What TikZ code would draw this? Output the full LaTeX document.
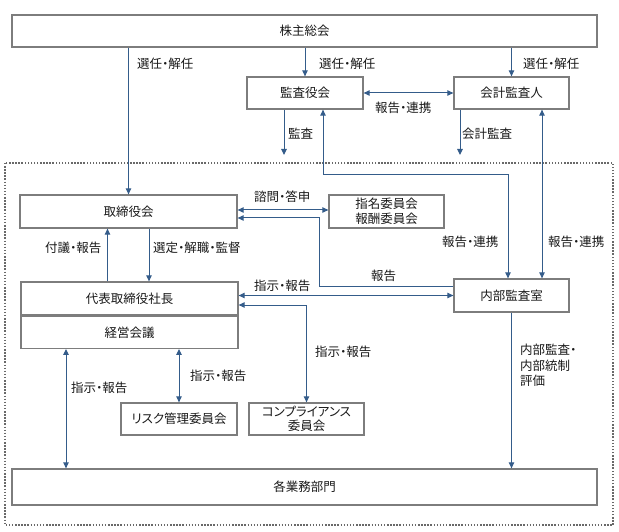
\documentclass[tikz,border=0pt]{standalone}
\usepackage{fontspec}
\setmainfont{Noto Sans CJK JP}[RawFeature=+palt]
\usetikzlibrary{arrows.meta, positioning, calc}
\definecolor{arrowblue}{RGB}{52,92,138}
\definecolor{boxgray}{RGB}{125,125,125}
\definecolor{dotgray}{RGB}{105,105,105}
\definecolor{textgray}{RGB}{25,25,25}

\begin{document}
\begin{tikzpicture}[
        x=1pt, y=-1pt,
        box/.style={rectangle, draw=boxgray, line width=1.3pt, fill=white, inner sep=0pt, align=center, text=textgray, font=\fontsize{12.5}{14.5}\selectfont},
        lbl/.style={anchor=west, inner sep=0pt, text=textgray, font=\fontsize{12.5}{15.5}\selectfont},
        link/.style={draw=arrowblue, line width=1pt, -{Triangle[length=6pt,width=5.5pt]}},
        twoway/.style={link, {Triangle[length=6pt,width=5.5pt]}-{Triangle[length=6pt,width=5.5pt]}}
    ]
        \useasboundingbox (0,0) rectangle (619,532);
        \draw[dotgray, line width=1.7pt, dash pattern=on 1.5pt off 1.6pt] (5,163) rectangle (613,525);

        % boxes
        \node[box, minimum width=585pt, minimum height=32pt] (soukai) at (304.5,31) {株主総会};
        \node[box, minimum width=116pt, minimum height=32pt] (kansayaku) at (305,93) {監査役会};
        \node[box, minimum width=115pt, minimum height=32pt] (kaikei) at (511.5,93) {会計監査人};
        \node[box, minimum width=217pt, minimum height=33pt] (torishimari) at (128.5,211.5) {取締役会};
        \node[box, minimum width=115pt, minimum height=33pt] (iinkai) at (386.5,211.5) {指名委員会\\報酬委員会};
        \node[box, minimum width=217pt, minimum height=33pt] (shacho) at (129.5,298.5) {代表取締役社長};
        \node[box, minimum width=217pt, minimum height=32pt, below=0pt of shacho] (keiei) {経営会議};
        \node[box, minimum width=115pt, minimum height=33pt] (naibu) at (511.5,295.5) {内部監査室};
        \node[box, minimum width=116pt, minimum height=32pt] (risk) at (179,419) {リスク管理委員会};
        \node[box, minimum width=115pt, minimum height=32pt] (comp) at (306.5,419) {コンプライアンス\\委員会};
        \node[box, minimum width=585pt, minimum height=36pt] (gyomu) at (304.5,487) {各業務部門};

        % free ends
        \coordinate (kansa) at (284,155);
        \coordinate (kaikeikansa) at (460,155);

        % connectors
        \draw[link] (torishimari.north |- soukai.south) -- (torishimari.north);
        \draw[link] (kansayaku.north |- soukai.south) -- (kansayaku.north);
        \draw[link] (kaikei.north |- soukai.south) -- (kaikei.north);
        \draw[twoway] (kansayaku.east) -- (kaikei.west);
        \draw[link] (kansayaku.south -| kansa) -- (kansa);
        \draw[link] (kaikei.south -| kaikeikansa) -- (kaikeikansa);
        \draw[twoway] ([xshift=18pt]kansayaku.south) |- (323,175) -| ([xshift=-3.5pt]naibu.north);
        \draw[twoway] ([xshift=30.5pt]kaikei.south) -- ([xshift=30.5pt]naibu.north);
        \draw[twoway] ([yshift=1.5pt]torishimari.east) -- ([yshift=1.5pt]iinkai.west);
        \draw[link] ([yshift=9.5pt]naibu.west) -- ++(-134,0) |- ([yshift=-6.5pt]torishimari.east);
        \draw[link] ([xshift=-22pt]shacho.north) -- ([xshift=-22pt]shacho.north |- torishimari.south);
        \draw[link] ([xshift=19.5pt]shacho.north |- torishimari.south) -- ([xshift=19.5pt]shacho.north);
        \draw[twoway] (shacho.east |- naibu.west) -- (naibu.west);
        \draw[twoway] ([yshift=-6.5pt]shacho.east) -| (comp.north);
        \draw[twoway] ([xshift=-63.5pt]keiei.south) -- ([xshift=-63.5pt]keiei.south |- gyomu.north);
        \draw[twoway] (risk.north |- keiei.south) -- (risk.north);
        \draw[link] (naibu.south) -- (naibu.south |- gyomu.north);

        % labels
        \node[lbl] (sennin1) at (137,64) {選任・解任};
        \node[lbl] (sennin2) at (319,64) {選任・解任};
        \node[lbl] (sennin3) at (523,64) {選任・解任};
        \node[lbl] (renkei1) at (375,108) {報告・連携};
        \node[lbl] (kansalbl) at (288,134) {監査};
        \node[lbl] (kaikeilbl) at (462,134) {会計監査};
        \node[lbl] (shimon) at (254,197) {諮問・答申};
        \node[lbl] (renkei2) at (442,242) {報告・連携};
        \node[lbl] (renkei3) at (548,242) {報告・連携};
        \node[lbl] (fugi) at (45,248) {付議・報告};
        \node[lbl] (sentei) at (153,248) {選定・解職・監督};
        \node[lbl] (hokoku) at (371,276) {報告};
        \node[lbl] (shiji1) at (254,286) {指示・報告};
        \node[lbl] (shiji2) at (315,352) {指示・報告};
        \node[lbl] (shiji3) at (190,376) {指示・報告};
        \node[lbl] (shiji4) at (71,388) {指示・報告};
        \node[lbl, anchor=north west, align=left] (hyoka) at (520,344) {内部監査・\\内部統制\\評価};
    \end{tikzpicture}
\end{document}
